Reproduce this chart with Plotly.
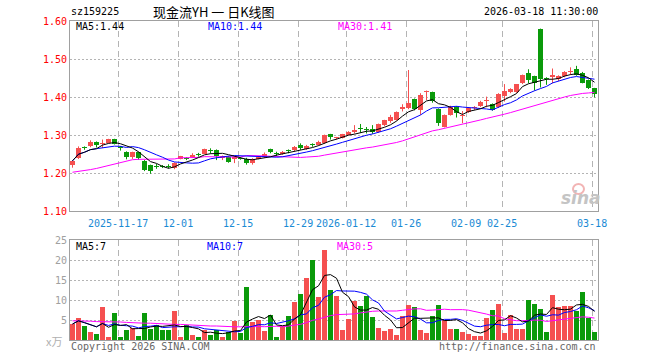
import plotly.graph_objects as go
import pandas as pd

# ---------------- data ----------------
holidays = ["2026-01-01", "2026-01-02", "2026-02-16", "2026-02-17", "2026-02-18",
            "2026-02-19", "2026-02-20", "2026-02-23"]
dates = [d.strftime("%Y-%m-%d") for d in pd.bdate_range("2025-11-05", "2026-03-18")
         if d.strftime("%Y-%m-%d") not in holidays]

tick_dates = ["2025-11-17", "2025-12-01", "2025-12-15", "2025-12-29", "2026-01-12",
              "2026-01-26", "2026-02-09", "2026-02-25", "2026-03-18"]
tick_text = ["2025-11-17", "12-01", "12-15", "12-29", "2026-01-12",
             "01-26", "02-09", "02-25", "03-18"]

opens = [1.221, 1.239, 1.266, 1.271, 1.282, 1.277, 1.279, 1.289, 1.268, 1.255,
         1.241, 1.255, 1.232, 1.221, 1.218, 1.218, 1.217, 1.214, 1.237, 1.239,
         1.241, 1.249, 1.251, 1.261, 1.261, 1.239, 1.242, 1.237, 1.239, 1.238,
         1.227, 1.238, 1.243, 1.263, 1.251, 1.249, 1.258, 1.260, 1.275, 1.262,
         1.276, 1.273, 1.278, 1.302, 1.291, 1.293, 1.300, 1.309, 1.319, 1.315,
         1.316, 1.309, 1.326, 1.338, 1.340, 1.368, 1.370, 1.395, 1.367, 1.412,
         1.413, 1.368, 1.322, 1.353, 1.374, 1.350, 1.360, 1.370, 1.376, 1.390,
         1.382, 1.373, 1.403, 1.412, 1.412, 1.436, 1.464, 1.455, 1.579, 1.451,
         1.452, 1.4465, 1.455, 1.465, 1.474, 1.462, 1.445, 1.423]
highs = [1.233, 1.270, 1.270, 1.286, 1.283, 1.288, 1.290, 1.290, 1.271, 1.257,
         1.256, 1.256, 1.234, 1.222, 1.224, 1.221, 1.223, 1.228, 1.245, 1.242,
         1.252, 1.253, 1.264, 1.265, 1.262, 1.246, 1.245, 1.243, 1.242, 1.240,
         1.239, 1.244, 1.254, 1.264, 1.256, 1.258, 1.262, 1.271, 1.278, 1.274,
         1.278, 1.285, 1.301, 1.303, 1.295, 1.303, 1.310, 1.326, 1.329, 1.321,
         1.326, 1.330, 1.340, 1.353, 1.362, 1.381, 1.471, 1.396, 1.410, 1.417,
         1.414, 1.370, 1.354, 1.377, 1.376, 1.363, 1.373, 1.376, 1.390, 1.401,
         1.383, 1.410, 1.434, 1.423, 1.434, 1.459, 1.473, 1.456, 1.580, 1.452,
         1.475, 1.457, 1.468, 1.478, 1.482, 1.466, 1.446, 1.424]
lows = [1.214, 1.237, 1.261, 1.268, 1.267, 1.266, 1.278, 1.275, 1.259, 1.236,
        1.237, 1.235, 1.205, 1.198, 1.211, 1.213, 1.212, 1.210, 1.236, 1.234,
        1.240, 1.243, 1.250, 1.251, 1.234, 1.234, 1.227, 1.226, 1.235, 1.222,
        1.222, 1.236, 1.240, 1.252, 1.243, 1.248, 1.252, 1.257, 1.261, 1.261,
        1.269, 1.272, 1.277, 1.288, 1.288, 1.291, 1.299, 1.304, 1.306, 1.304,
        1.303, 1.306, 1.323, 1.332, 1.338, 1.362, 1.368, 1.365, 1.353, 1.392,
        1.385, 1.324, 1.320, 1.351, 1.346, 1.331, 1.358, 1.366, 1.374, 1.373,
        1.364, 1.371, 1.388, 1.410, 1.411, 1.434, 1.436, 1.417, 1.425, 1.432,
        1.436, 1.442, 1.452, 1.458, 1.456, 1.436, 1.421, 1.399]
closes = [1.232, 1.267, 1.265, 1.282, 1.274, 1.279, 1.289, 1.277, 1.266, 1.241,
          1.255, 1.240, 1.208, 1.206, 1.217, 1.216, 1.215, 1.227, 1.244, 1.238,
          1.247, 1.247, 1.263, 1.259, 1.245, 1.245, 1.229, 1.242, 1.238, 1.227,
          1.238, 1.242, 1.251, 1.255, 1.249, 1.255, 1.257, 1.268, 1.265, 1.271,
          1.274, 1.282, 1.300, 1.296, 1.293, 1.302, 1.307, 1.313, 1.315, 1.312,
          1.307, 1.329, 1.339, 1.347, 1.361, 1.373, 1.385, 1.368, 1.406, 1.416,
          1.390, 1.332, 1.353, 1.373, 1.359, 1.353, 1.372, 1.373, 1.388, 1.392,
          1.366, 1.408, 1.417, 1.421, 1.433, 1.458, 1.445, 1.436, 1.4465, 1.448,
          1.458, 1.455, 1.467, 1.467, 1.458, 1.438, 1.423, 1.408]
# volume in 万手
volumes = [4.0, 5.6, 3.4, 1.9, 1.6, 8.2, 0.8, 6.8, 0.8, 2.6,
           3.0, 1.1, 6.8, 2.8, 3.7, 2.6, 2.4, 7.3, 0.8, 3.8,
           1.25, 0.8, 2.6, 1.3, 2.6, 0.7, 1.9, 4.8, 1.8, 13.2,
           4.5, 5.0, 2.3, 6.2, 0.8, 3.6, 6.0, 9.6, 11.6, 15.6,
           20.1, 10.8, 22.6, 12.6, 11.1, 2.6, 5.3, 9.8, 8.6, 11.1,
           5.8, 3.1, 2.3, 2.8, 1.3, 6.1, 8.8, 8.3, 2.6, 1.8,
           6.1, 8.8, 5.0, 2.8, 2.8, 2.1, 1.6, 1.1, 1.1, 5.6,
           7.6, 9.1, 1.8, 6.3, 2.7, 2.8, 10.1, 9.1, 7.8, 2.1,
           11.3, 8.2, 8.4, 8.6, 7.3, 12.1, 5.6, 2.1]
# MA30 values for the first 29 days (history before the window)
price_ma30_head = [1.202, 1.204, 1.206, 1.209, 1.212, 1.216, 1.220, 1.225, 1.229, 1.233,
                   1.235, 1.236, 1.236, 1.236, 1.236, 1.236, 1.236, 1.237, 1.240, 1.240,
                   1.241, 1.241, 1.243, 1.243, 1.243, 1.243, 1.243, 1.242, 1.242]
vol_ma30_head = [4.8, 4.8, 4.7, 4.7, 4.6, 4.6, 4.5, 4.5, 4.5, 4.4,
                 4.3, 4.3, 4.2, 4.2, 4.1, 4.0, 4.0, 3.9, 3.9, 3.8,
                 3.8, 3.7, 3.6, 3.5, 3.5, 3.4, 3.4, 3.3, 3.3]

code = "sz159225"
title = "现金流YH 一 日K线图"
stamp = "2026-03-18 11:30:00"
ma_labels = [("MA5:1.44", "#000000"), ("MA10:1.44", "#0000ff"), ("MA30:1.41", "#ff00ff")]
vol_labels = [("MA5:7", "#000000"), ("MA10:7", "#0000ff"), ("MA30:5", "#ff00ff")]

# ---------------- derived ----------------
n = len(dates)
idx = list(range(n))
cs = pd.Series(closes)
vs = pd.Series(volumes)
ma5 = cs.rolling(5, min_periods=1).mean().tolist()
ma10 = cs.rolling(10, min_periods=1).mean().tolist()
ma30 = price_ma30_head + cs.rolling(30).mean().tolist()[len(price_ma30_head):]
vma5 = vs.rolling(5, min_periods=1).mean().tolist()
vma10 = vs.rolling(10, min_periods=1).mean().tolist()
vma30 = vol_ma30_head + vs.rolling(30).mean().tolist()[len(vol_ma30_head):]

RED = "#f55050"
GREEN = "#0a9a0a"
up = [c >= o for o, c in zip(opens, closes)]
cols = [RED if u else GREEN for u in up]
body_base = [min(o, c) for o, c in zip(opens, closes)]
body_h = [max(abs(c - o), 0.0027) for o, c in zip(opens, closes)]

fig = go.Figure()
fig.add_trace(go.Bar(x=idx, y=body_h, base=body_base, width=0.8333,
                     marker=dict(color=cols, line=dict(width=0)), xaxis="x", yaxis="y"))
for col, flag in ((RED, True), (GREEN, False)):
    wx, wy = [], []
    for i in idx:
        if up[i] == flag:
            wx += [i, i, None]
            wy += [lows[i], highs[i], None]
    fig.add_trace(go.Scatter(x=wx, y=wy, mode="lines", line=dict(color=col, width=1),
                             xaxis="x", yaxis="y"))
for series, col in ((ma30, "#ff00ff"), (ma10, "#0000ff"), (ma5, "#000000")):
    fig.add_trace(go.Scatter(x=idx, y=series, mode="lines", line=dict(color=col, width=1),
                             xaxis="x", yaxis="y"))

fig.add_trace(go.Bar(x=idx, y=volumes, width=0.8333,
                     marker=dict(color=cols, line=dict(width=0)), xaxis="x2", yaxis="y2"))
for series, col in ((vma30, "#ff00ff"), (vma10, "#0000ff"), (vma5, "#000000")):
    fig.add_trace(go.Scatter(x=idx, y=series, mode="lines", line=dict(color=col, width=1),
                             xaxis="x2", yaxis="y2"))

# ---------------- layout ----------------
W, H = 660, 360
ML, MR, MT, MB = 70, 62, 21, 20
PW, PH = W - ML - MR, H - MT - MB
main_bottom, vol_top = 211, 240


def px(xp):
    return (xp - ML) / PW


def py(yp):
    return (H - MB - yp) / PH


tickpos = [dates.index(d) - 0.4 for d in tick_dates]
xr = [-0.4167, n - 0.4167]
MONO = "DejaVu Sans Mono"
GRID = "#b4b4b4"
BORDER = "#a0a0a0"

common_x = dict(range=xr, showgrid=True, gridcolor=GRID, griddash="6px,4px", gridwidth=1,
                tickmode="array", tickvals=tickpos, ticks="", showline=True, mirror=True,
                linecolor=BORDER, linewidth=1, zeroline=False, fixedrange=True)

fig.update_layout(
    width=W, height=H, margin=dict(l=ML, r=MR, t=MT, b=MB, pad=0, autoexpand=False),
    paper_bgcolor="white", plot_bgcolor="white", showlegend=False, hovermode=False,
    barmode="overlay", bargap=0,
    xaxis=dict(common_x, anchor="y", ticktext=tick_text, ticklabelstandoff=3,
               tickfont=dict(family=MONO, size=10, color="#1a8ad4")),
    xaxis2=dict(common_x, anchor="y2", showticklabels=False),
    yaxis=dict(domain=[py(main_bottom), 1], range=[1.10, 1.60], tickmode="array",
               tickvals=[1.1, 1.2, 1.3, 1.4, 1.5, 1.6],
               ticktext=["1.10", "1.20", "1.30", "1.40", "1.50", "1.60"],
               tickfont=dict(family=MONO, size=10, color="#ff0000"), ticks="",
               showgrid=True, gridcolor=GRID, griddash="2px,2px", showline=True, mirror=True,
               linecolor=BORDER, linewidth=1, zeroline=False, anchor="x", fixedrange=True),
    yaxis2=dict(domain=[0, py(vol_top)], range=[0, 25], tickmode="array",
                tickvals=[5, 10, 15, 20, 25], ticktext=["5", "10", "15", "20", "25"],
                tickfont=dict(family=MONO, size=10, color="#a0a0a0"), ticks="",
                showgrid=True, gridcolor=GRID, griddash="2px,2px", showline=True, mirror=True,
                linecolor=BORDER, linewidth=1, zeroline=False, anchor="x2", fixedrange=True),
)

ann = []


def text(x, y, s, color="#000", size=10, family=MONO, anchor="left", **kw):
    ann.append(dict(x=px(x), y=py(y), xref="paper", yref="paper", text=s, showarrow=False,
                    xanchor=anchor, yanchor="middle",
                    font=dict(family=family, size=size, color=color, **kw)))


text(69, 12, code, size=10)
text(151, 12, title, size=13, family="Noto Sans CJK SC")
text(600, 12, stamp, size=10, anchor="right")
for (s, c), x in zip(ma_labels, [74, 206, 336]):
    text(x, 27, s, color=c)
for (s, c), x in zip(vol_labels, [74, 205, 335]):
    text(x, 247, s, color=c)
text(64, 341, "x万", color="#b0b0b0", size=11, family="Noto Sans CJK SC", anchor="right")
text(69, 346, "Copyright 2026 SINA.COM", color="#666666")
text(598, 346, "http://finance.sina.com.cn", color="#666666", anchor="right")
text(581, 198, "sina", color="#c4c4c4", size=17, family="DejaVu Sans", style="italic",
     weight="bold", anchor="center")
fig.update_layout(annotations=ann)
fig.add_shape(type="circle", xref="paper", yref="paper",
              x0=px(573), x1=px(584), y0=py(194), y1=py(184),
              line=dict(color="#f2b4b4", width=2), fillcolor="rgba(0,0,0,0)")

fig.write_html("out.html", post_script="document.body.style.margin='0';",
               config={"displayModeBar": False, "staticPlot": True})
